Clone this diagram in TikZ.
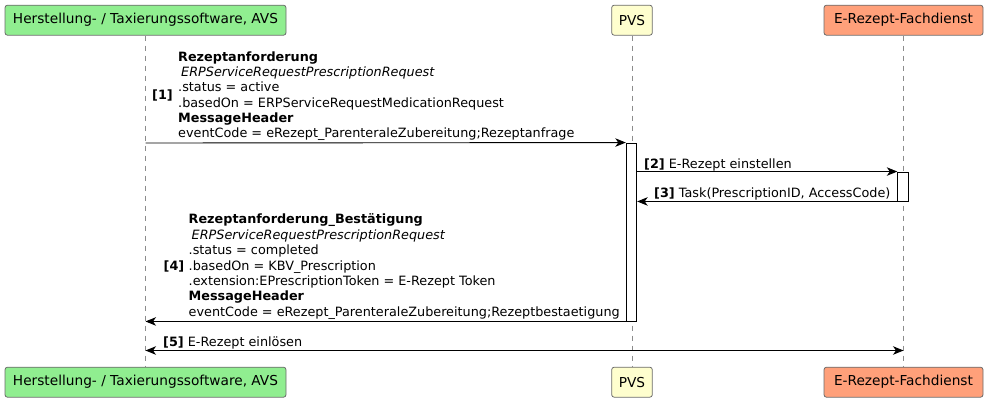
\documentclass[tikz,border=0pt]{standalone}
\usepackage{fontspec}
\setmainfont{DejaVu Sans}
\usetikzlibrary{arrows.meta}
\definecolor{avsgreen}{HTML}{90EE90}
\definecolor{pvsyellow}{HTML}{FEFECE}
\definecolor{fdsalmon}{HTML}{FFA07A}
\definecolor{boxborder}{HTML}{6B6B6B}
\definecolor{lifegray}{HTML}{8C8C8C}
\begin{document}
\begin{tikzpicture}[x=1pt,y=-1pt,
  part/.style={draw=boxborder, line width=0.8pt, rounded corners=2.5pt,
    minimum height=30pt, inner xsep=2pt, inner ysep=0pt,
    font=\fontsize{13.7}{16}\selectfont},
  msgtext/.style={font=\fontsize{12.8}{15.1}\selectfont, align=left, inner sep=0pt},
  msgtextb/.style={font=\fontsize{12.8}{15.4}\selectfont, align=left, inner sep=0pt},
  numtext/.style={font=\fontsize{12.8}{15}\selectfont\bfseries, inner sep=0pt},
  lifeline/.style={draw=lifegray, line width=0.8pt, dash pattern=on 5pt off 5pt},
  actbox/.style={draw=black, fill=white, line width=0.9pt, inner sep=0pt, minimum width=10.5pt},
  tip/.tip={Stealth[length=10.5pt,width=8.5pt,inset=3pt]},
  msg/.style={draw=black, line width=0.9pt, -tip},
  msgboth/.style={draw=black, line width=0.9pt, tip-tip},
]
\useasboundingbox (0,0) rectangle (988,402);

% participants
\node[part, fill=avsgreen, minimum width=281pt] (avsT) at (145.5,20.2) {Herstellung- / Taxierungssoftware, AVS};
\node[part, fill=pvsyellow, minimum width=40.6pt] (pvsT) at (632,20.2) {PVS};
\node[part, fill=fdsalmon, minimum width=159pt] (fdT) at (903.5,20.2) {E-Rezept-Fachdienst};
\node[part, fill=avsgreen, minimum width=281pt] (avsB) at (145.5,382.2) {Herstellung- / Taxierungssoftware, AVS};
\node[part, fill=pvsyellow, minimum width=40.6pt] (pvsB) at (632,382.2) {PVS};
\node[part, fill=fdsalmon, minimum width=159pt] (fdB) at (903.5,382.2) {E-Rezept-Fachdienst};

% lifelines
\draw[lifeline] (avsT.south) -- (avsB.north);
\draw[lifeline] (pvsT.south) -- (pvsB.north);
\draw[lifeline] (fdT.south) -- (fdB.north);

% activations
\node[actbox, minimum height=178pt] (actP) at (631.5,232) {};
\node[actbox, minimum height=29pt] (actF) at (903,186.5) {};

% message 1
\coordinate (m1y) at (0,143);
\draw[msg] (avsT.south |- m1y) -- (actP.north west);
\node[msgtext, anchor=south west] (t1) at (178,140.5) {\textbf{Rezeptanforderung}\\
\hspace*{3pt}\textit{ERPServiceRequestPrescriptionRequest}\\
.status = active\\
.basedOn = ERPServiceRequestMedicationRequest\\
\textbf{MessageHeader}\\
eventCode = eRezept\_ParenteraleZubereitung;Rezeptanfrage};
\node[numtext, anchor=east] (n1) at ([shift={(-5,-0.5)}]t1.west) {[1]};

% message 2
\draw[msg] (actP.east |- actF.north) -- (actF.north west);
\node[msgtext, anchor=base west] (t2) at (644,168) {\textbf{[2]} E-Rezept einstellen};

% message 3
\draw[msg] (actF.south west) -- (actP.east |- actF.south);
\node[msgtext, anchor=base west] (t3) at (654,197) {\textbf{[3]} Task(PrescriptionID, AccessCode)};

% message 4
\draw[msg] (actP.south west) -- (avsT.south |- actP.south);
\node[msgtextb, anchor=south west] (t4) at (188.5,319.5) {\textbf{Rezeptanforderung\_Bestätigung}\\
\hspace*{3pt}\textit{ERPServiceRequestPrescriptionRequest}\\
.status = completed\\
.basedOn = KBV\_Prescription\\
.extension:EPrescriptionToken = E-Rezept Token\\
\textbf{MessageHeader}\\
eventCode = eRezept\_ParenteraleZubereitung;Rezeptbestaetigung};
\node[numtext, anchor=east] (n4) at ([shift={(-4,0)}]t4.west) {[4]};

% message 5
\coordinate (m5y) at (0,350.5);
\draw[msgboth] (avsT.south |- m5y) -- (fdT.south |- m5y);
\node[msgtext, anchor=base west] (t5) at (163,346) {\textbf{[5]} E-Rezept einlösen};
\end{tikzpicture}
\end{document}
